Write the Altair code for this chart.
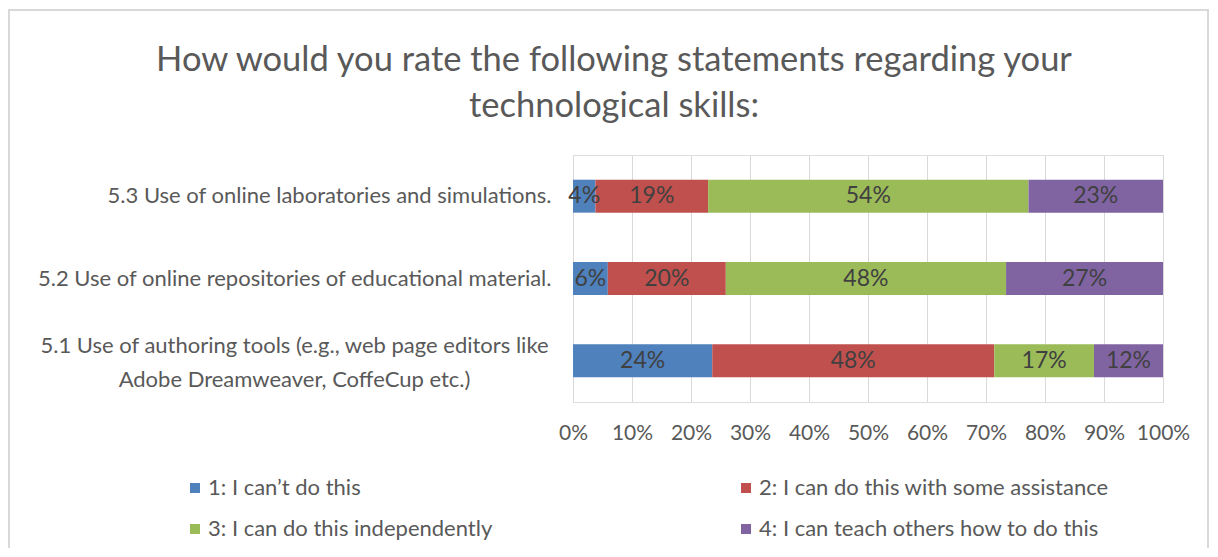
import altair as alt
import pandas as pd

categories = [
    "5.3 Use of online laboratories and simulations.",
    "5.2 Use of online repositories of educational material.",
    "5.1 Use of authoring tools (e.g., web page editors like\nAdobe Dreamweaver, CoffeCup etc.)",
]
levels = [
    "1: I can’t do this",
    "2: I can do this with some assistance",
    "3: I can do this independently",
    "4: I can teach others how to do this",
]
colors = ["#4F81BD", "#C0504D", "#9BBB59", "#8064A2"]

# percent per level, in category order above
cant_do = [3.8, 5.9, 23.6]
with_assistance = [19.1, 20.0, 47.8]
independently = [54.3, 47.5, 16.9]
teach_others = [22.8, 26.6, 11.7]

x_ticks = [0, 10, 20, 30, 40, 50, 60, 70, 80, 90, 100]

title_lines = [
    "How would you rate the following statements regarding your",
    "technological skills:",
]

rows = []
for ci, cat in enumerate(categories):
    for li, series in enumerate([cant_do, with_assistance, independently, teach_others]):
        rows.append({"category": cat, "level": levels[li], "order": li, "value": series[ci]})
df = pd.DataFrame(rows)

# legend is laid out column by column: put levels 1 and 3 in the first column
legend_order = [levels[0], levels[2], levels[1], levels[3]]
legend_colors = [colors[0], colors[2], colors[1], colors[3]]

FONT = "Lato"
GREY = "#595959"
MULTI = r"indexof(datum.value, '\n') >= 0"

base = alt.Chart(df).transform_window(
    cum="sum(value)", groupby=["category"], sort=[alt.SortField("order")]
).transform_calculate(
    start="datum.cum - datum.value",
    mid="datum.cum - datum.value / 2",
    label="format(datum.value, '.0f') + '%'",
)

y_enc = alt.Y(
    "category:N",
    sort=categories,
    title=None,
    scale=alt.Scale(paddingInner=0.6, paddingOuter=0.3),
    axis=alt.Axis(
        domain=False,
        ticks=False,
        tickSize=0,
        grid=False,
        labelFont=FONT,
        labelFontSize=22,
        labelColor=GREY,
        labelLimit=700,
        labelLineHeight=34,
        labelExpr=r"split(datum.label, '\n')",
        labelAlign={"condition": {"test": MULTI, "value": "center"}, "value": "right"},
        labelPadding={"condition": {"test": MULTI, "value": 279}, "value": 22},
        labelOffset={"condition": {"test": MULTI, "value": -15}, "value": 0},
    ),
)

bars = base.mark_bar().encode(
    x=alt.X(
        "start:Q",
        title=None,
        scale=alt.Scale(domain=[0, 100], nice=False),
        axis=alt.Axis(
            values=x_ticks,
            labelExpr="datum.value + '%'",
            labelOverlap=False,
            labelFlush=False,
            domain=False,
            ticks=False,
            tickSize=0,
            grid=True,
            gridColor="#d9d9d9",
            gridWidth=1,
            labelFont=FONT,
            labelFontSize=21,
            labelColor=GREY,
            labelPadding=20,
        ),
    ),
    x2="cum:Q",
    y=y_enc,
    color=alt.Color(
        "level:N",
        sort=legend_order,
        scale=alt.Scale(domain=legend_order, range=legend_colors),
        legend=alt.Legend(
            title=None,
            orient="none",
            legendX=-389,
            legendY=322,
            columns=2,
            columnPadding=242,
            rowPadding=19,
            symbolType="square",
            symbolSize=100,
            symbolStrokeWidth=0,
            labelFont=FONT,
            labelFontSize=22,
            labelColor=GREY,
            labelLimit=500,
            labelOffset=2,
        ),
    ),
)

texts = base.mark_text(font=FONT, fontSize=23, color="#404040").encode(
    x="mid:Q",
    y=alt.Y("category:N", sort=categories),
    text="label:N",
)

border = alt.Chart(alt.Data(values=[{"b": 1}])).mark_rect(
    fill=None, stroke="#d9d9d9", strokeWidth=2
).encode(
    x=alt.value(-564),
    x2=alt.value(635),
    y=alt.value(-145),
    y2=alt.value(420),
)

chart = alt.layer(bars, texts, border).properties(
    width=590,
    height=247,
    title=alt.TitleParams(
        text=title_lines,
        font=FONT,
        fontSize=34.5,
        fontWeight="normal",
        color=GREY,
        anchor="middle",
        frame="group",
        dx=-254,
        offset=0,
        dy=115,
        lineHeight=46,
    ),
    autosize=alt.AutoSizeParams(type="none"),
    padding={"left": 565, "top": 147, "right": 47, "bottom": 146},
).configure_view(stroke=None).configure(background="white")

chart.save("out.html", embed_options={"renderer": "svg", "actions": False})
